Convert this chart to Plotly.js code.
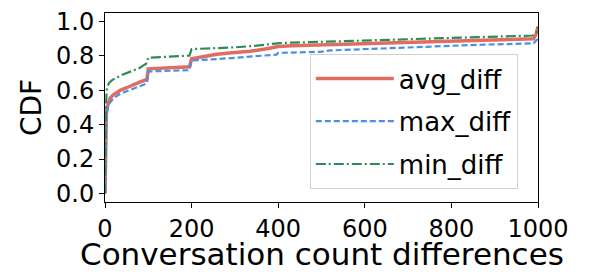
<!DOCTYPE html>
<html>
<head>
<meta charset="utf-8">
<script src="https://cdn.plot.ly/plotly-3.0.1.min.js"></script>
<style>html,body{margin:0;padding:0;background:#fff;}#chart{width:589px;height:272px;}</style>
</head>
<body>
<div id="chart"></div>
<script>
// Series: CDF of conversation count differences
var avgX = [0, 1, 2, 3, 5, 8, 12, 20, 35, 50, 65, 80, 90, 97, 100, 130, 160, 195, 200, 230, 258, 300, 335, 370, 396, 400, 430, 500, 560, 620, 658, 720, 800, 880, 950, 990, 996, 1000];
var avgY = [0, 0.2, 0.36, 0.46, 0.5, 0.53, 0.555, 0.575, 0.6, 0.615, 0.634, 0.648, 0.657, 0.665, 0.725, 0.73, 0.734, 0.737, 0.783, 0.795, 0.81, 0.82, 0.827, 0.84, 0.852, 0.855, 0.86, 0.865, 0.87, 0.875, 0.88, 0.885, 0.89, 0.895, 0.898, 0.9, 0.93, 0.97];

var maxX = [0, 1, 2, 3, 5, 8, 12, 20, 35, 50, 65, 80, 90, 97, 100, 130, 160, 195, 200, 250, 289, 340, 396, 400, 450, 496, 520, 600, 697, 780, 860, 940, 990, 1000];
var maxY = [0, 0.18, 0.33, 0.43, 0.48, 0.51, 0.53, 0.555, 0.58, 0.595, 0.61, 0.622, 0.632, 0.64, 0.71, 0.713, 0.715, 0.717, 0.773, 0.78, 0.787, 0.797, 0.808, 0.818, 0.82, 0.824, 0.832, 0.84, 0.85, 0.858, 0.865, 0.87, 0.874, 0.9];

var minX = [0, 1, 2, 4, 6, 10, 15, 25, 40, 65, 80, 88, 95, 100, 130, 160, 195, 200, 250, 300, 350, 404, 430, 500, 600, 697, 780, 860, 940, 988, 996, 1000];
var minY = [0, 0.3, 0.5, 0.6, 0.625, 0.645, 0.657, 0.672, 0.69, 0.715, 0.73, 0.744, 0.755, 0.79, 0.795, 0.8, 0.802, 0.84, 0.845, 0.85, 0.86, 0.875, 0.877, 0.882, 0.89, 0.9, 0.905, 0.91, 0.915, 0.919, 0.94, 0.97];

var names = ["avg_diff", "max_diff", "min_diff"];
var xTicks = [0, 200, 400, 600, 800, 1000];
var yTicks = [0.0, 0.2, 0.4, 0.6, 0.8, 1.0];
var yTickLabels = ["0.0", "0.2", "0.4", "0.6", "0.8", "1.0"];
var xTitle = "Conversation count differences";
var yTitle = "CDF";

var traces = [
  {x: avgX, y: avgY, name: names[0], mode: "lines", legendgroup: "a",
   line: {color: "#e06c62", width: 3.5}},
  {x: maxX, y: maxY, name: names[1], mode: "lines", legendgroup: "b",
   line: {color: "#4a90e2", width: 2.2, dash: "6px,3px"}},
  {x: minX, y: minY, name: names[2], mode: "lines", legendgroup: "c",
   line: {color: "#2e8b57", width: 2.2, dash: "10px,3px,2px,3px"}}
];

var font = "'DejaVu Sans', sans-serif";
var layout = {
  width: 589, height: 272,
  margin: {l: 105, r: 51, t: 13, b: 70},
  paper_bgcolor: "#fff", plot_bgcolor: "#fff",
  font: {family: font, color: "#000"},
  showlegend: true,
  legend: {
    x: 0.473, y: 0.783, xanchor: "left", yanchor: "top",
    bgcolor: "rgba(255,255,255,0.8)", bordercolor: "#d0d0d0", borderwidth: 1,
    font: {family: font, size: 26, color: "#000"},
    traceorder: "grouped", tracegroupgap: 6, itemwidth: 78
  },
  xaxis: {
    range: [0, 1000], tickvals: xTicks, ticktext: xTicks.map(String),
    showgrid: false, zeroline: false, showline: true, linecolor: "#000", linewidth: 1, mirror: true,
    ticks: "outside", ticklen: 5, tickcolor: "#000",
    tickfont: {family: font, size: 24, color: "#000"}
  },
  yaxis: {
    range: [-0.05, 1.05], tickvals: yTicks, ticktext: yTickLabels,
    showgrid: false, zeroline: false, showline: true, linecolor: "#000", linewidth: 1, mirror: true,
    ticks: "outside", ticklen: 5, tickcolor: "#000",
    tickfont: {family: font, size: 24, color: "#000"},
    title: {text: yTitle, font: {family: font, size: 28, color: "#000"}, standoff: 6}
  },
  annotations: [{
    text: xTitle, xref: "paper", yref: "paper", x: 0.5, y: 0,
    xanchor: "center", yanchor: "top", yshift: -32, showarrow: false,
    font: {family: font, size: 31, color: "#000"}
  }]
};

Plotly.newPlot("chart", traces, layout, {displayModeBar: false, staticPlot: true});
</script>
</body>
</html>
